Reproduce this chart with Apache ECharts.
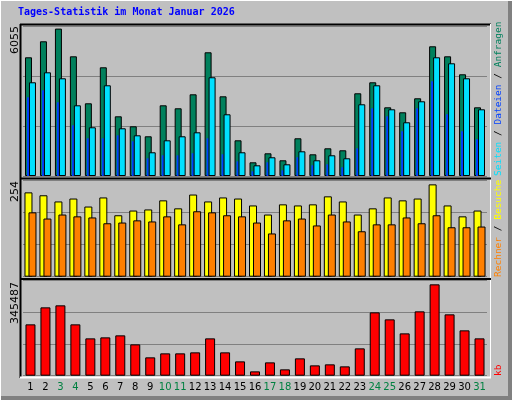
<!DOCTYPE html>
<html><head><meta charset="utf-8">
<script src="https://cdn.jsdelivr.net/npm/echarts@6/dist/echarts.min.js"></script>
<style>html,body{margin:0;padding:0;background:#c0c0c0}#c{width:512px;height:400px}</style>
</head><body><div id="c"></div>
<script>
const days = ['1','2','3','4','5','6','7','8','9','10','11','12','13','14','15','16','17','18','19','20','21','22','23','24','25','26','27','28','29','30','31'];
const weekend = ['3','4','10','11','17','18','24','25','31'];
const hits  = [4792,5438,5950,4832,2935,4388,2410,2006,1603,2854,2733,3298,4994,3217,1441,553,916,634,1522,876,1118,1038,3339,3783,2773,2572,3137,5236,4832,4106,2773];
const files = [3783,4186,3944,2854,1966,3662,1926,1643,957,1441,1603,1764,3985,2491,957,432,755,472,997,634,836,715,2895,3662,2693,2168,3016,4792,4550,3944,2693];
const pages = [3177,3460,2975,2047,1522,1522,1643,1401,715,836,836,916,1522,876,593,190,553,230,755,432,472,351,1118,2733,2410,1805,2733,3823,2491,1805,1482];
const visits = [232,224,207,215,193,218,169,182,185,210,188,226,207,218,215,196,171,199,196,199,221,207,171,188,218,210,215,254,196,166,182];
const sites  = [177,160,171,166,163,147,149,155,152,166,144,180,177,169,166,149,119,155,160,141,171,152,125,144,144,163,147,169,136,136,138];
const kb = [194200,258500,266100,194200,141200,145000,152600,118500,69400,84500,84500,88300,141200,88300,54200,16400,50400,24000,65600,39100,42900,35300,103400,239600,213100,160100,243400,345487,232000,171500,141200];
const maxLabels = ['6055','254','345487'];

const ch = echarts.init(document.getElementById('c'), null, {renderer:'canvas'});
const B = {borderColor:'#000', borderWidth:1};
const split = {show:true, lineStyle:{color:'#808080', width:1}};
function xa(g, labels){
  return {type:'category', gridIndex:g, data:days, axisLine:{show:false}, axisTick:{show:false},
    axisLabel: labels ? {show:true, margin:7, fontFamily:'DejaVu Sans', fontSize:10,
      color:(v)=>weekend.includes(v)?'#008040':'#000', interval:0} : {show:false}};
}
function ya(g, max, sl){
  return {type:'value', gridIndex:g, min:0, max:max, interval:max/3, axisLabel:{show:false},
    axisLine:{show:false}, axisTick:{show:false}, splitLine: sl ? split : {show:false}};
}
const mono = 'DejaVu Sans Mono';
function line(x1,y1,x2,y2,c,w){return {type:'line', shape:{x1,y1,x2,y2}, style:{stroke:c, lineWidth:w||1}, z:-1};}
const graphics = [
  line(0.5,0,0.5,400,'#fff',1), line(0,0.5,512,0.5,'#fff',1),
  {type:'rect', shape:{x:508,y:0,width:4,height:400}, style:{fill:'#808080'}, z:-2},
  {type:'rect', shape:{x:0,y:396,width:512,height:4}, style:{fill:'#808080'}, z:-2},
  {type:'text', x:18, y:12, style:{text:'Tages-Statistik im Monat Januar 2026', fill:'#0000ff', font:'bold 10px "'+mono+'"', verticalAlign:'middle'}},
  line(20,24.5,491,24.5,'#000',2), line(20.5,24,20.5,378,'#000',2),
  line(490.5,24,490.5,378,'#fff',1), line(20,377.5,491,377.5,'#fff',2),
  line(20,178.5,491,178.5,'#000',2), line(20,279,491,279,'#000',2),
  {type:'text', x:15, y:26, rotation:Math.PI/2, style:{text:maxLabels[0], align:'right', verticalAlign:'middle', font:'11px "DejaVu Sans"', fill:'#000'}},
  {type:'text', x:15, y:181, rotation:Math.PI/2, style:{text:maxLabels[1], align:'right', verticalAlign:'middle', font:'11px "DejaVu Sans"', fill:'#000'}},
  {type:'text', x:15, y:282, rotation:Math.PI/2, style:{text:maxLabels[2], align:'right', verticalAlign:'middle', font:'11px "DejaVu Sans"', fill:'#000'}},
  {type:'text', x:499, y:176, rotation:Math.PI/2, style:{text:'{a|Seiten} / {b|Dateien} / {c|Anfragen}', align:'left', verticalAlign:'middle', font:'9.5px "'+mono+'"', fill:'#000',
     rich:{a:{fill:'#00e0ff', font:'9.5px "'+mono+'"'}, b:{fill:'#0040ff', font:'9.5px "'+mono+'"'}, c:{fill:'#00805c', font:'9.5px "'+mono+'"'}}}},
  {type:'text', x:499, y:277, rotation:Math.PI/2, style:{text:'{a|Rechner} / {b|Besuche}', align:'left', verticalAlign:'middle', font:'9.5px "'+mono+'"', fill:'#000',
     rich:{a:{fill:'#ff8000', font:'9.5px "'+mono+'"'}, b:{fill:'#ffff00', font:'9.5px "'+mono+'"'}}}},
  {type:'text', x:499, y:376, rotation:Math.PI/2, style:{text:'kb', align:'left', verticalAlign:'middle', font:'9.5px "'+mono+'"', fill:'#ff0000'}}
];
ch.setOption({
  backgroundColor:'#c0c0c0',
  animation:false,
  grid:[
    {left:23, right:25, top:26, height:150},
    {left:20.5, right:27.5, top:26, height:150},
    {left:23, right:25, top:180, height:96.7},
    {left:23, right:25, top:280.7, height:95}
  ],
  xAxis:[xa(0,false), xa(1,false), xa(2,false), xa(3,true)],
  yAxis:[ya(0,6055,true), ya(1,6055,false), ya(2,266,true), ya(3,359300,true)],
  series:[
    {type:'bar', xAxisIndex:0, yAxisIndex:0, data:hits, barWidth:7, barGap:'-43%', itemStyle:Object.assign({color:'#00805c'},B), z:2},
    {type:'bar', xAxisIndex:0, yAxisIndex:0, data:files, barWidth:7, barGap:'-43%', itemStyle:Object.assign({color:'#00e0ff'},B), z:4},
    {type:'bar', xAxisIndex:1, yAxisIndex:1, data:pages, barWidth:2, itemStyle:{color:'#0040ff'}, z:3},
    {type:'bar', xAxisIndex:2, yAxisIndex:2, data:visits, barWidth:8, barGap:'-50%', itemStyle:Object.assign({color:'#ffff00'},B), z:2},
    {type:'bar', xAxisIndex:2, yAxisIndex:2, data:sites, barWidth:8, barGap:'-50%', itemStyle:Object.assign({color:'#ff8000'},B), z:3},
    {type:'bar', xAxisIndex:3, yAxisIndex:3, data:kb, barWidth:10, itemStyle:Object.assign({color:'#ff0000'},B), z:2}
  ],
  graphic:graphics
});
</script></body></html>
